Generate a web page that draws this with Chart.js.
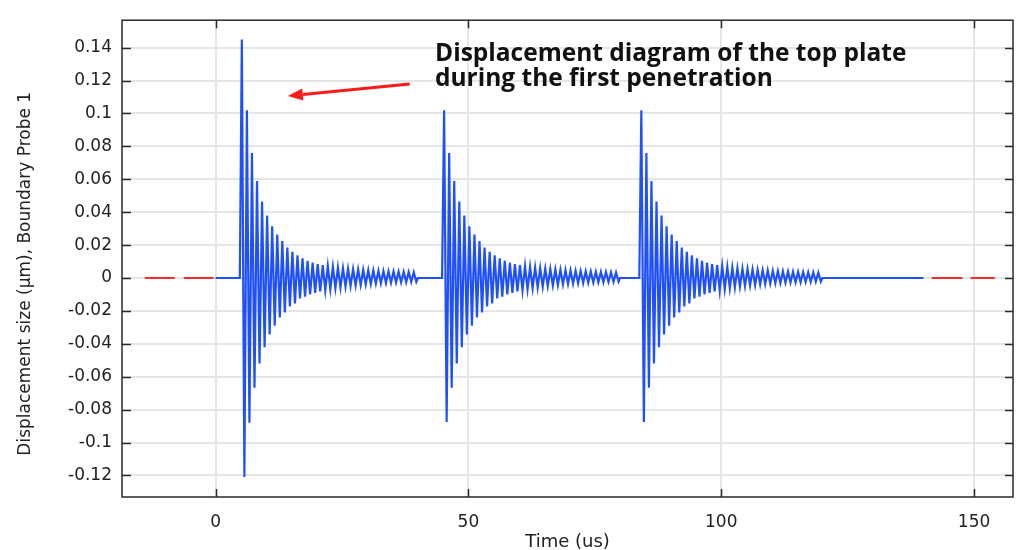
<!DOCTYPE html>
<html>
<head>
<meta charset="utf-8">
<script src="https://cdn.jsdelivr.net/npm/chart.js@4.4.1/dist/chart.umd.min.js"></script>
<style>
html,body{margin:0;padding:0;background:#ffffff;}
#wrap{width:1021px;height:550px;}
</style>
</head>
<body>
<div id="wrap"><canvas id="c" width="1021" height="550"></canvas></div>
<script>
// ---------------- data ----------------
const xTickValues = [0, 50, 100, 150];
const yTickValues = [-0.12, -0.1, -0.08, -0.06, -0.04, -0.02, 0, 0.02, 0.04, 0.06, 0.08, 0.1, 0.12, 0.14];
const yTickLabels = ['-0.12', '-0.1', '-0.08', '-0.06', '-0.04', '-0.02', '0', '0.02', '0.04', '0.06', '0.08', '0.1', '0.12', '0.14'];

const xAxisTitle = 'Time (us)';
const yAxisTitle = 'Displacement size (\u03bcm), Boundary Probe 1';
const noteLines = ['Displacement diagram of the top plate', 'during the first penetration'];

// time span of the probe signal (us)
const signalStartUs = 0;
const signalEndUs = 140;
// time of the first peak of each burst (us) and oscillation period (us)
const burstStartUs = [5.2, 45.2, 84.2];
const cyclePeriodUs = 1.0;

// positive / negative peaks of each burst (um)
const burst1Pos = [0.145, 0.102, 0.076, 0.059, 0.0465, 0.038, 0.0315, 0.0265, 0.0225, 0.0185, 0.016, 0.0138, 0.012, 0.0105, 0.0093, 0.0085, 0.0078, 0.0072, 0.0067, 0.0063, 0.006, 0.0057, 0.0054, 0.0052, 0.005, 0.0048, 0.0046, 0.0044, 0.0042, 0.0041, 0.004, 0.0038, 0.0037, 0.0036, 0.0035];
const burst1Neg = [-0.121, -0.088, -0.0667, -0.052, -0.042, -0.0343, -0.029, -0.024, -0.021, -0.0173, -0.0154, -0.0124, -0.0114, -0.01, -0.009, -0.0082, -0.0075, -0.0068, -0.0062, -0.0057, -0.0052, -0.0048, -0.0045, -0.0042, -0.0039, -0.0036, -0.0034, -0.0032, -0.003, -0.0028, -0.0027, -0.0026, -0.0025, -0.0024, -0.0023];
const burst2Pos = [0.102, 0.076, 0.059, 0.0465, 0.038, 0.0315, 0.0265, 0.0225, 0.0185, 0.016, 0.0138, 0.012, 0.0105, 0.0093, 0.0085, 0.0078, 0.0072, 0.0067, 0.0063, 0.006, 0.0057, 0.0054, 0.0052, 0.005, 0.0048, 0.0046, 0.0044, 0.0042, 0.0041, 0.004, 0.0038, 0.0037, 0.0036, 0.0035, 0.0034];
const burst2Neg = [-0.0875, -0.0667, -0.052, -0.042, -0.0343, -0.029, -0.024, -0.021, -0.0173, -0.0154, -0.0124, -0.0114, -0.01, -0.009, -0.0082, -0.0075, -0.0068, -0.0062, -0.0057, -0.0052, -0.0048, -0.0045, -0.0042, -0.0039, -0.0036, -0.0034, -0.0032, -0.003, -0.0028, -0.0027, -0.0026, -0.0025, -0.0024, -0.0023, -0.0022];
const burst3Pos = [0.102, 0.076, 0.059, 0.0465, 0.038, 0.0315, 0.0265, 0.0225, 0.0185, 0.016, 0.0138, 0.012, 0.0105, 0.0093, 0.0085, 0.0078, 0.0072, 0.0067, 0.0063, 0.006, 0.0057, 0.0054, 0.0052, 0.005, 0.0048, 0.0046, 0.0044, 0.0042, 0.0041, 0.004, 0.0038, 0.0037, 0.0036, 0.0035, 0.0034, 0.0033];
const burst3Neg = [-0.0875, -0.0667, -0.052, -0.042, -0.0343, -0.029, -0.024, -0.021, -0.0173, -0.0154, -0.0124, -0.0114, -0.01, -0.009, -0.0082, -0.0075, -0.0068, -0.0062, -0.0057, -0.0052, -0.0048, -0.0045, -0.0042, -0.0039, -0.0036, -0.0034, -0.0032, -0.003, -0.0028, -0.0027, -0.0026, -0.0025, -0.0024, -0.0023, -0.0022, -0.0021];

// red dashed boundary segments (us) at zero displacement
const boundaryLeftUs = [-14, 0];
const boundaryRightUs = [141.6, 154.1];

// ---------------- build series ----------------
function burstPoints(start, pos, neg) {
  const pts = [{x: start - 0.4, y: 0}];
  for (let i = 0; i < pos.length; i++) {
    pts.push({x: start + i * cyclePeriodUs, y: pos[i]});
    pts.push({x: start + (i + 0.5) * cyclePeriodUs, y: neg[i]});
  }
  pts.push({x: start + (pos.length - 0.5) * cyclePeriodUs + 0.3, y: 0});
  return pts;
}
const probeData = [{x: signalStartUs, y: 0}]
  .concat(burstPoints(burstStartUs[0], burst1Pos, burst1Neg))
  .concat(burstPoints(burstStartUs[1], burst2Pos, burst2Neg))
  .concat(burstPoints(burstStartUs[2], burst3Pos, burst3Neg))
  .concat([{x: signalEndUs, y: 0}]);

const TEXT = '#222222';
const TICK_FONT = {family: 'DejaVu Sans', size: 17};

const framePlugin = {
  id: 'frameAndNotes',
  afterDraw(chart) {
    const {ctx, chartArea: a, scales: {x, y}} = chart;
    ctx.save();
    // frame
    ctx.strokeStyle = '#2a2a2a';
    ctx.lineWidth = 1.5;
    ctx.strokeRect(a.left, a.top, a.right - a.left, a.bottom - a.top);
    // inner ticks
    ctx.beginPath();
    xTickValues.forEach(v => {
      const px = Math.round(x.getPixelForValue(v)) + 0.5;
      ctx.moveTo(px, a.bottom); ctx.lineTo(px, a.bottom - 8);
      ctx.moveTo(px, a.top); ctx.lineTo(px, a.top + 8);
    });
    yTickValues.forEach(v => {
      const py = Math.round(y.getPixelForValue(v)) + 0.5;
      ctx.moveTo(a.left, py); ctx.lineTo(a.left + 9, py);
      ctx.moveTo(a.right, py); ctx.lineTo(a.right - 8, py);
    });
    ctx.stroke();

    // y axis title
    ctx.fillStyle = TEXT;
    ctx.font = '17px "DejaVu Sans"';
    ctx.textAlign = 'center';
    ctx.textBaseline = 'middle';
    ctx.translate(26, y.getPixelForValue(0.0026));
    ctx.rotate(-Math.PI / 2);
    ctx.fillText(yAxisTitle, 0, 0);
    ctx.setTransform(1, 0, 0, 1, 0, 0);

    // annotation text
    ctx.font = 'bold 24.5px "Open Sans"';
    ctx.textAlign = 'left';
    ctx.textBaseline = 'alphabetic';
    ctx.fillStyle = '#111111';
    const tx = x.getPixelForValue(43.4);
    ctx.fillText(noteLines[0], tx, y.getPixelForValue(0.1322));
    ctx.fillText(noteLines[1], tx, y.getPixelForValue(0.1167));

    // arrow
    const x0 = x.getPixelForValue(38.4), y0 = y.getPixelForValue(0.1179);
    const x1 = x.getPixelForValue(14.3), y1 = y.getPixelForValue(0.1107);
    const ang = Math.atan2(y1 - y0, x1 - x0);
    const headLen = 15, headW = 6;
    const bx = x1 - headLen * Math.cos(ang), by = y1 - headLen * Math.sin(ang);
    ctx.strokeStyle = '#ff1a1a';
    ctx.fillStyle = '#ff1a1a';
    ctx.lineWidth = 3;
    ctx.beginPath(); ctx.moveTo(x0, y0); ctx.lineTo(bx, by); ctx.stroke();
    ctx.beginPath();
    ctx.moveTo(x1, y1);
    ctx.lineTo(bx + headW * Math.sin(ang), by - headW * Math.cos(ang));
    ctx.lineTo(bx - headW * Math.sin(ang), by + headW * Math.cos(ang));
    ctx.closePath(); ctx.fill();
    ctx.restore();
  }
};

new Chart(document.getElementById('c'), {
  type: 'line',
  data: {
    datasets: [
      {
        data: boundaryLeftUs.map(t => ({x: t, y: 0})),
        borderColor: '#ff2a2a', borderWidth: 2, borderDash: [30, 9],
        pointRadius: 0, tension: 0, fill: false
      },
      {
        data: boundaryRightUs.map(t => ({x: t, y: 0})),
        borderColor: '#ff2a2a', borderWidth: 2, borderDash: [31, 8],
        pointRadius: 0, tension: 0, fill: false
      },
      {
        data: probeData,
        borderColor: '#1f50ff', borderWidth: 2.2,
        pointRadius: 0, tension: 0, fill: false
      }
    ]
  },
  options: {
    responsive: false,
    animation: false,
    devicePixelRatio: 1,
    layout: {padding: {top: 12, right: 8, left: 0, bottom: 0}},
    plugins: {legend: {display: false}, tooltip: {enabled: false}},
    scales: {
      x: {
        type: 'linear', min: -18.5, max: 157.7,
        afterBuildTicks: s => { s.ticks = xTickValues.map(v => ({value: v})); },
        afterFit: s => { s.height = 53; },
        grid: {color: '#e6e6e6', lineWidth: 2, drawTicks: false},
        border: {display: false},
        ticks: {padding: 15, color: TEXT, font: TICK_FONT, autoSkip: false, maxRotation: 0,
                callback: v => String(v)},
        title: {display: true, text: xAxisTitle, color: TEXT,
                font: {family: 'DejaVu Sans', size: 18}, padding: {top: 0, bottom: -3}}
      },
      y: {
        type: 'linear', min: -0.1331, max: 0.1567,
        afterBuildTicks: s => { s.ticks = yTickValues.map(v => ({value: v})); },
        afterFit: s => { s.width = 122; },
        grid: {color: '#e6e6e6', lineWidth: 2, drawTicks: false},
        border: {display: false},
        ticks: {padding: 10, color: TEXT, font: TICK_FONT, autoSkip: false,
                callback: v => yTickLabels[yTickValues.indexOf(v)]}
      }
    }
  },
  plugins: [framePlugin]
});
</script>
</body>
</html>
